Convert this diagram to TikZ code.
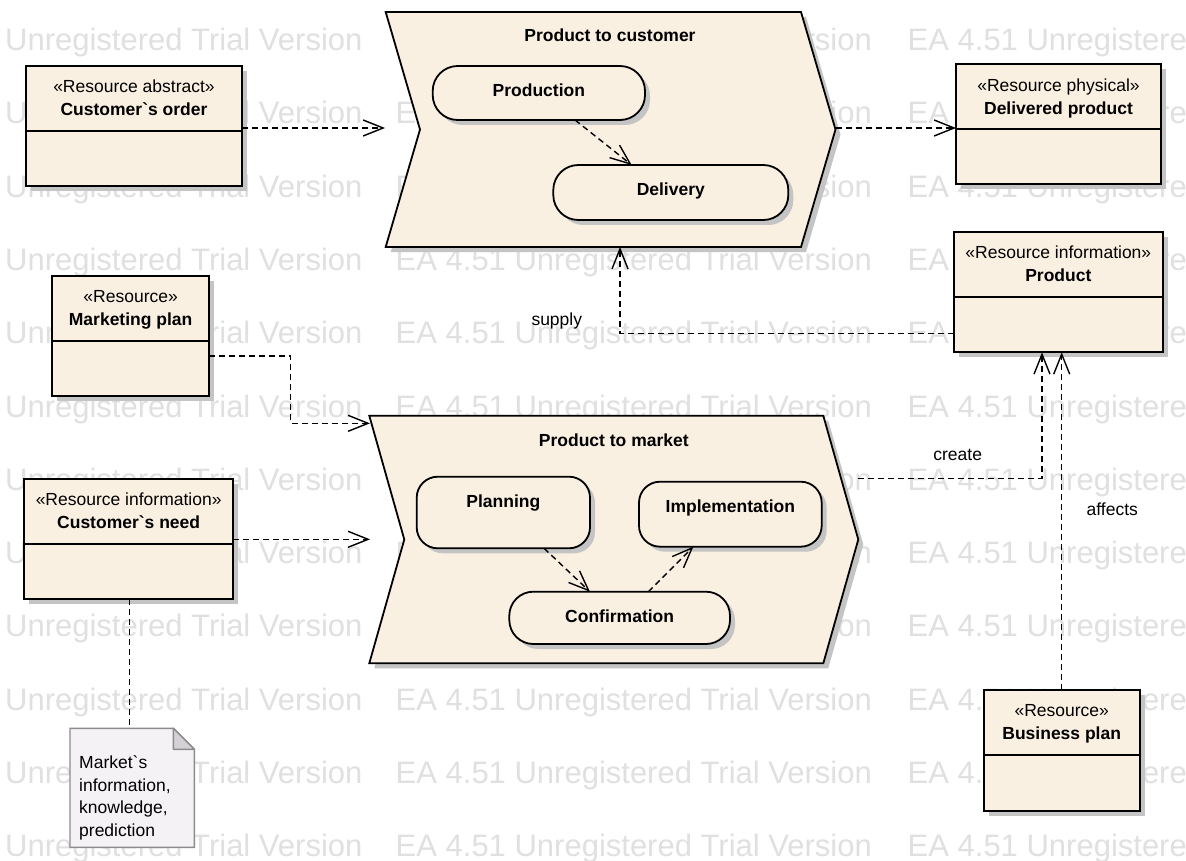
\documentclass[tikz,border=0pt]{standalone}
\usepackage{fontspec}
\setmainfont{Liberation Sans}
\usetikzlibrary{arrows.meta,calc}
\definecolor{eafill}{RGB}{250,240,226}
\definecolor{eashadow}{RGB}{196,196,196}
\definecolor{wmgray}{RGB}{224,224,224}
\definecolor{notefill}{RGB}{245,242,246}
\definecolor{notedraw}{RGB}{140,140,140}
\definecolor{notefold}{RGB}{212,208,214}
\tikzset{
  boxline/.style={line width=1.8pt, draw=black},
  classbox/.style={boxline, fill=eafill, rectangle, inner sep=0pt, outer sep=0pt, anchor=north west},
  shadowfill/.style={fill=eashadow, draw=none},
  stereotxt/.style={font=\fontsize{17.5}{20}\selectfont, inner sep=0pt},
  nametxt/.style={font=\bfseries\fontsize{17.5}{20}\selectfont, inner sep=0pt},
  dep/.style={line width=1.4pt, dash pattern=on 6pt off 4pt, -{Straight Barb[length=20pt,width=16pt,line width=1.4pt]}},
  link/.style={line width=1.4pt, dash pattern=on 6pt off 4pt},
  lbl/.style={font=\fontsize{17.5}{20}\selectfont, inner sep=0pt, anchor=base},
  wm/.style={font=\fontsize{31}{31}\selectfont, text=wmgray, inner sep=0pt, anchor=base west},
  notetxt/.style={font=\fontsize{17.5}{20}\selectfont, inner sep=0pt, anchor=base west},
}
\newcommand\eaclass[7]{%
  \fill[shadowfill] (#2+5,#3+5) rectangle (#4+5,#5+5);
  \node[classbox, minimum width={#4-#2}, minimum height={#5-#3}] (#1) at (#2,#3) {};
  \draw[boxline] ($(#1.north west)+(0,65)$) -- ($(#1.north east)+(0,65)$);
  \node[stereotxt, anchor=base] (#1-st) at ($(#1.north)+(0,27)$) {«#6»};
  \node[nametxt, anchor=base] (#1-nm) at ($(#1.north)+(0,50)$) {#7};
}
\newcommand\eaact[7]{%
  \fill[shadowfill, rounded corners=#6pt] (#2+5,#3+5) rectangle (#4+5,#5+5);
  \node[classbox, rounded corners=#6pt, minimum width={#4-#2}, minimum height={#5-#3}] (#1) at (#2,#3) {};
  \node[nametxt, anchor=base] (#1-t) at ($(#1.north)+(0,30.5)$) {#7};
}
\begin{document}
\begin{tikzpicture}[x=1pt,y=-1pt]
\useasboundingbox (0,0) rectangle (1186,861);
\fill[white] (0,0) rectangle (1186,861);
% watermark
\begin{scope}
\clip (0,0) rectangle (1186,861);
\foreach \k in {0,...,11}{
  \node[wm] (wma\k) at (5,50.5+73.3*\k) {Unregistered Trial Version};
  \node[wm] (wmb\k) at (395.5,50.5+73.3*\k) {EA 4.51 Unregistered Trial Version};
  \node[wm] (wmc\k) at (907.5,50.5+73.3*\k) {EA 4.51 Unregistered Trial Version};
}
\end{scope}

% chevron: Product to customer
\begin{scope}[shift={(5,5)}]
\fill[shadowfill] (385.7,12) -- (801,12) -- (835.5,129.5) -- (801,247) -- (385.7,247) -- (420,129.5) -- cycle;
\end{scope}
\filldraw[boxline, fill=eafill] (385.7,12) -- (801,12) -- (835.5,129.5) -- (801,247) -- (385.7,247) -- (420,129.5) -- cycle;
\node[nametxt, anchor=base] (ptc) at (610,41.7) {Product to customer};
\coordinate (ptcIn) at (385,128);
\coordinate (ptcTip) at (835.5,128);
\coordinate (ptcSup) at (620,247);

% chevron: Product to market
\begin{scope}[shift={(5,5)}]
\fill[shadowfill] (369.3,415.7) -- (823.3,415.7) -- (858.3,539.5) -- (823.3,663.3) -- (369.3,663.3) -- (404.3,539.5) -- cycle;
\end{scope}
\filldraw[boxline, fill=eafill] (369.3,415.7) -- (823.3,415.7) -- (858.3,539.5) -- (823.3,663.3) -- (369.3,663.3) -- (404.3,539.5) -- cycle;
\node[nametxt, anchor=base] (ptm) at (613.8,446) {Product to market};
\coordinate (ptmIn1) at (370,423.3);
\coordinate (ptmIn2) at (370,539.3);
\coordinate (ptmOut) at (858.3,478.3);

% activities
\eaact{prod}{432.7}{66}{645}{120}{25}{Production}
\eaact{deliv}{553.3}{165}{788.3}{220}{25}{Delivery}
\eaact{plan}{416.7}{476.7}{590}{548.3}{21}{Planning}
\eaact{impl}{639}{481.7}{821.7}{546.7}{21}{Implementation}
\eaact{conf}{509.3}{591.7}{730}{644}{24}{Confirmation}

% classes
\eaclass{co}{26}{65.7}{242}{185.7}{Resource abstract}{Customer\textasciigrave s order}
\eaclass{dp}{956}{64.3}{1161}{184.3}{Resource physical}{Delivered product}
\eaclass{pr}{954}{231.7}{1162.7}{352.3}{Resource information}{Product}
\eaclass{mp}{52.3}{275.7}{209}{396}{Resource}{Marketing plan}
\eaclass{cn}{24.3}{478.7}{233}{599}{Resource information}{Customer\textasciigrave s need}
\eaclass{bp}{983.7}{689.7}{1139.7}{810.7}{Resource}{Business plan}

% note
\filldraw[line width=1.4pt, draw=notedraw, fill=notefill] (70,728.3) -- (173.4,728.3) -- (194.4,749.3) -- (194.4,847.3) -- (70,847.3) -- cycle;
\filldraw[line width=1.4pt, draw=notedraw, fill=notefold, line join=round] (173.4,728.3) -- (173.4,749.3) -- (194.4,749.3) -- cycle;
\coordinate (ntTop) at (129.4,728.3);
\node[notetxt] (nt1) at (79,768.3) {Market\textasciigrave s};
\node[notetxt] (nt2) at (79,791) {information,};
\node[notetxt] (nt3) at (79,813.6) {knowledge,};
\node[notetxt] (nt4) at (79,836.2) {prediction};

% internal flows
\draw[dep] ($(prod.south)+(36.2,0)$) -- ($(deliv.north)+(-39.1,0)$);
\draw[dep] ($(plan.south)+(40.7,0)$) -- ($(conf.north)+(-29.7,0)$);
\draw[dep] ($(conf.north)+(28.7,0)$) -- ($(impl.south)+(-37,0)$);

% connectors
\coordinate (supTurn) at (620,333.3);
\coordinate (mpTurn1) at (290.7,356);
\coordinate (mpTurn2) at (290.7,423.3);
\coordinate (crTurn) at (1042,478.3);
\draw[dep] (co.east |- ptcIn) -- (ptcIn);
\draw[dep] (ptcTip) -- (ptcTip -| dp.west);
\draw[dep] (pr.west |- supTurn) -- (supTurn) -- (ptcSup);
\draw[dep] (mp.east |- mpTurn1) -- (mpTurn1) -- (mpTurn2) -- (ptmIn1);
\draw[dep] (cn.east |- ptmIn2) -- (ptmIn2);
\draw[dep] (ptmOut) -- (crTurn) -- (crTurn |- pr.south);
\draw[dep] (bp.north) -- (bp.north |- pr.south);
\draw[link] (cn.south -| ntTop) -- (ntTop);

% labels
\node[lbl] (lsupply) at (556.8,325) {supply};
\node[lbl] (lcreate) at (957.7,460.7) {create};
\node[lbl] (laffects) at (1112.3,515) {affects};
\end{tikzpicture}
\end{document}
